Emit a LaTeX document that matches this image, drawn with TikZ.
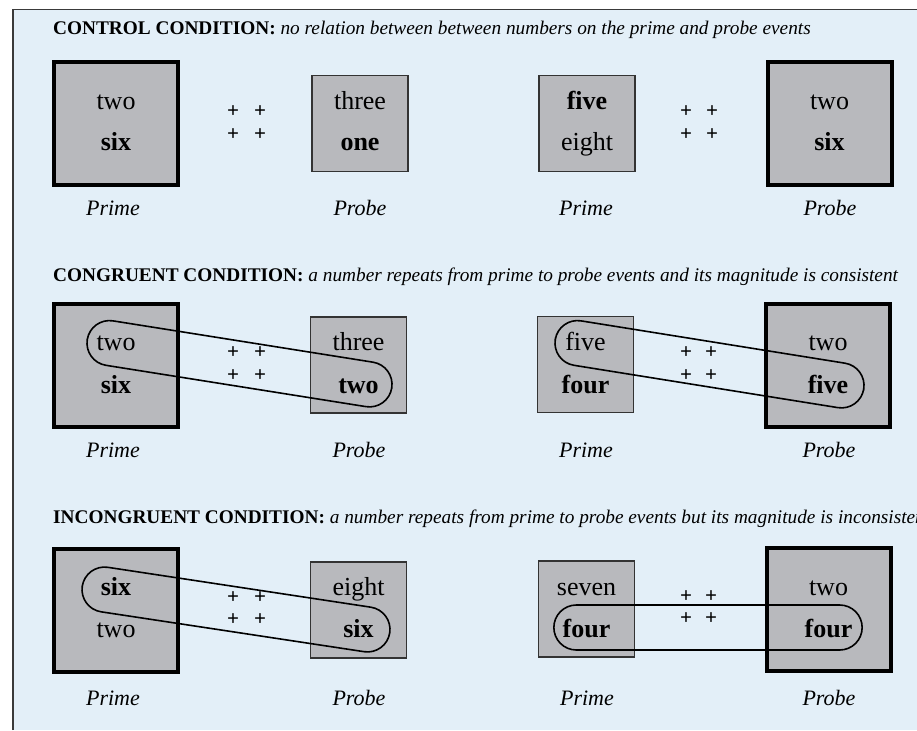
\documentclass[tikz,border=0pt]{standalone}
\usepackage{fontspec}
\setmainfont{Liberation Serif}
\definecolor{panelbg}{HTML}{E3EFF8}
\definecolor{boxgray}{HTML}{B8B9BD}
\definecolor{framegray}{HTML}{3A3A3A}
\begin{document}
\begin{tikzpicture}[x=1pt,y=-1pt,
  bigbox/.style={draw=black, fill=boxgray, line width=4pt,
    minimum width=124pt, minimum height=123pt, inner sep=0pt},
  smallbox/.style={draw=black!80, fill=boxgray, line width=1.3pt,
    minimum width=96pt, minimum height=96pt, inner sep=0pt},
  word/.style={anchor=base, inner sep=0pt, font=\fontsize{26}{26}\selectfont},
  boldword/.style={anchor=base, inner sep=0pt, font=\fontsize{26}{26}\selectfont\bfseries},
  caption/.style={anchor=base, inner sep=0pt, font=\fontsize{22}{22}\selectfont\itshape},
  heading/.style={anchor=base west, inner sep=0pt, font=\fontsize{19.3}{19.3}\selectfont},
  fixcross/.style={inner sep=0pt, font=\fontsize{21}{21}\selectfont\bfseries},
  link/.style={draw=black, line width=1.6pt, rounded corners=22.5pt,
    minimum height=45pt, inner sep=0pt}
]
\useasboundingbox (0,0) rectangle (917,730);
\clip (0,0) rectangle (917,730);

% panel background and its visible edges
\fill[panelbg] (13,9.5) rectangle (917,730);
\draw[framegray, line width=1.5pt] (13,730) -- (13,9.5) -- (917,9.5);

% ---------------- control condition ----------------
\node[heading] (h1) at (53,35) {\textbf{CONTROL CONDITION:} \textit{no relation between between numbers on the prime and probe events}};

\node[bigbox]   (a1) at (116,123.5) {};
\node[smallbox] (a2) at (360,123.5) {};
\node[smallbox] (a3) at (587,123.5) {};
\node[bigbox]   (a4) at (829.5,123.5) {};

\node[word]     (a1t) at (116,110) {two};
\node[boldword] (a1b) at (116,151) {six};
\node[word]     (a2t) at (360,110) {three};
\node[boldword] (a2b) at (360,151) {one};
\node[boldword] (a3t) at (587,110) {five};
\node[word]     (a3b) at (587,151) {eight};
\node[word]     (a4t) at (829.5,110) {two};
\node[boldword] (a4b) at (829.5,151) {six};

\node[fixcross] (a5) at (233,112) {+};
\node[fixcross] (a6) at (260,112) {+};
\node[fixcross] (a7) at (233,135) {+};
\node[fixcross] (a8) at (260,135) {+};
\node[fixcross] (a9) at (686,112) {+};
\node[fixcross] (a10) at (712,112) {+};
\node[fixcross] (a11) at (686,135) {+};
\node[fixcross] (a12) at (712,135) {+};

\node[caption] (a1c) at (113,215) {Prime};
\node[caption] (a2c) at (360,215) {Probe};
\node[caption] (a3c) at (586,215) {Prime};
\node[caption] (a4c) at (830,215) {Probe};

% ---------------- congruent condition ----------------
\node[heading] (h2) at (53,281) {\textbf{CONGRUENT CONDITION:} \textit{a number repeats from prime to probe events and its magnitude is consistent}};

\node[bigbox]   (b1) at (116,365) {};
\node[smallbox] (b2) at (358.5,365) {};
\node[smallbox] (b3) at (585.5,364.5) {};
\node[bigbox]   (b4) at (828,365) {};

\node[word]     (b1t) at (116,350) {two};
\node[boldword] (b1b) at (116,393) {six};
\node[word]     (b2t) at (358.5,350) {three};
\node[boldword] (b2b) at (358.5,393) {two};
\node[word]     (b3t) at (585.5,350) {five};
\node[boldword] (b3b) at (585.5,393) {four};
\node[word]     (b4t) at (828,350) {two};
\node[boldword] (b4b) at (828,393) {five};

\node[fixcross] (b5) at (233,353) {+};
\node[fixcross] (b6) at (260,353) {+};
\node[fixcross] (b7) at (233,376) {+};
\node[fixcross] (b8) at (260,376) {+};
\node[fixcross] (b9) at (686,353) {+};
\node[fixcross] (b10) at (711,353) {+};
\node[fixcross] (b11) at (686,376) {+};
\node[fixcross] (b12) at (711,376) {+};

\node[caption] (b1c) at (113,457) {Prime};
\node[caption] (b2c) at (359,457) {Probe};
\node[caption] (b3c) at (586,457) {Prime};
\node[caption] (b4c) at (829,457) {Probe};

\node[link, minimum width=308.3pt, rotate=-9.03] (b13) at (239.5,363.75) {};
\node[link, minimum width=312.4pt, rotate=-9.11] (b14) at (709.5,364.25) {};

% ---------------- incongruent condition ----------------
\node[heading] (h3) at (53,523) {\textbf{INCONGRUENT CONDITION:} \textit{a number repeats from prime to probe events but its magnitude is inconsistent}};

\node[bigbox]   (c1) at (116,610) {};
\node[smallbox] (c2) at (358.5,610) {};
\node[smallbox] (c3) at (586.5,609) {};
\node[bigbox]   (c4) at (828.5,609.5) {};

\node[boldword] (c1t) at (116,595) {six};
\node[word]     (c1b) at (116,637) {two};
\node[word]     (c2t) at (358.5,595) {eight};
\node[boldword] (c2b) at (358.5,637) {six};
\node[word]     (c3t) at (586.5,595) {seven};
\node[boldword] (c3b) at (586.5,637) {four};
\node[word]     (c4t) at (828.5,595) {two};
\node[boldword] (c4b) at (828.5,637) {four};

\node[fixcross] (c5) at (233,598) {+};
\node[fixcross] (c6) at (260,598) {+};
\node[fixcross] (c7) at (233,620) {+};
\node[fixcross] (c8) at (260,620) {+};
\node[fixcross] (c9) at (686,597) {+};
\node[fixcross] (c10) at (711,597) {+};
\node[fixcross] (c11) at (686,619) {+};
\node[fixcross] (c12) at (711,619) {+};

\node[caption] (c1c) at (113,705) {Prime};
\node[caption] (c2c) at (359,705) {Probe};
\node[caption] (c3c) at (587,705) {Prime};
\node[caption] (c4c) at (829,705) {Probe};

\node[link, minimum width=311pt, rotate=-8.62] (c13) at (236,609.5) {};
\node[link, minimum width=308.3pt] (c14) at (708,627.5) {};
\end{tikzpicture}
\end{document}
